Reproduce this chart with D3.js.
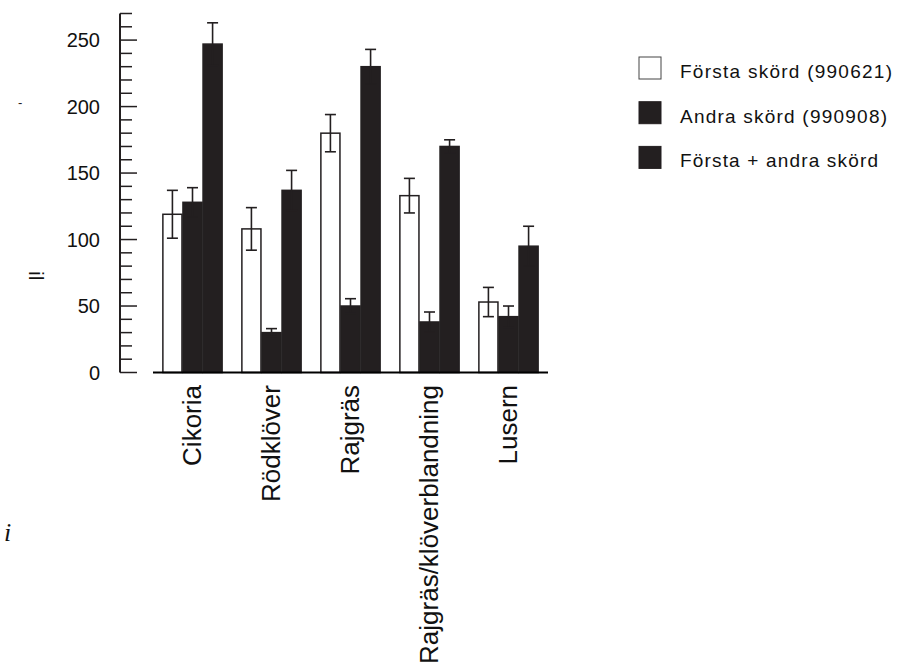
<!DOCTYPE html>
<html>
<head>
<meta charset="utf-8">
<script src="https://cdn.jsdelivr.net/npm/d3@7"></script>
<style>
  html, body { margin: 0; padding: 0; background: #fff; }
  svg { display: block; font-family: "Liberation Sans", Arial, Helvetica, sans-serif; }
</style>
</head>
<body>
<script>
// Skördeutfall per gröda, tre serier med standardfel
const categories = ["Cikoria", "Rödklöver", "Rajgräs", "Rajgräs/klöverblandning", "Lusern"];
const seriesNames = ["Första skörd (990621)", "Andra skörd (990908)", "Första + andra skörd"];
const forsta      = [119, 108, 180, 133, 53];
const forstaErr   = [18, 16, 14, 13, 11];
const andra       = [128, 30, 50, 38, 42];
const andraErr    = [11, 3, 5.5, 7.5, 8];
const summa       = [247, 137, 230, 170, 95];
const summaErr    = [16, 15, 13, 5, 15];
const majorTicks  = [0, 50, 100, 150, 200, 250];
const minorTicks  = [10, 20, 30, 40, 60, 70, 80, 90, 110, 120, 130, 140, 160, 170, 180, 190, 210, 220, 230, 240, 260, 270];

const W = 904, H = 668;
const ink = "#231f20";
const fills = ["#ffffff", ink, ink];

const svg = d3.select("body").append("svg").attr("width", W).attr("height", H);

const y = d3.scaleLinear().domain([0, 270]).range([372.5, 13.5]);
const x = d3.scaleBand().domain(categories).range([153, 548]).paddingInner(0.25).paddingOuter(0.125);
const xi = d3.scaleBand().domain([0, 1, 2]).range([0, x.bandwidth()]).paddingInner(0.05);

const values = [forsta, andra, summa];
const errors = [forstaErr, andraErr, summaErr];
const rows = [];
categories.forEach((c, ci) => {
  values.forEach((vals, si) => rows.push({ c, si, v: vals[ci], e: errors[si][ci] }));
});

// y-axis: long ticks at labelled values, short ticks between
const yAxis = svg.append("g");
yAxis.append("line")
  .attr("x1", 120).attr("x2", 120)
  .attr("y1", y(270)).attr("y2", y(0))
  .attr("stroke", ink).attr("stroke-width", 2);
yAxis.selectAll(".minor").data(minorTicks).join("line")
  .attr("x1", 120).attr("x2", 132)
  .attr("y1", d => y(d)).attr("y2", d => y(d))
  .attr("stroke", ink).attr("stroke-width", 1.5);
yAxis.selectAll(".major").data(majorTicks).join("line")
  .attr("x1", 120).attr("x2", 137)
  .attr("y1", d => y(d)).attr("y2", d => y(d))
  .attr("stroke", ink).attr("stroke-width", 1.5);
yAxis.selectAll("text").data(majorTicks).join("text")
  .attr("x", 100).attr("y", d => y(d))
  .attr("dy", "0.35em")
  .attr("text-anchor", "end")
  .attr("font-size", 20)
  .attr("fill", "#111")
  .text(d => d);

// bars
const groups = svg.append("g");
groups.selectAll("rect").data(rows).join("rect")
  .attr("x", d => x(d.c) + xi(d.si))
  .attr("width", xi.bandwidth())
  .attr("y", d => y(d.v))
  .attr("height", d => y(0) - y(d.v))
  .attr("fill", d => fills[d.si])
  .attr("stroke", ink)
  .attr("stroke-width", 1.5);

// error bars
const capW = 11;
const eb = svg.append("g").attr("stroke", ink).attr("stroke-width", 1.6);
rows.forEach(d => {
  const cx = x(d.c) + xi(d.si) + xi.bandwidth() / 2;
  eb.append("line").attr("x1", cx).attr("x2", cx).attr("y1", y(d.v + d.e)).attr("y2", y(d.v - d.e));
  eb.append("line").attr("x1", cx - capW / 2).attr("x2", cx + capW / 2).attr("y1", y(d.v + d.e)).attr("y2", y(d.v + d.e));
  eb.append("line").attr("x1", cx - capW / 2).attr("x2", cx + capW / 2).attr("y1", y(d.v - d.e)).attr("y2", y(d.v - d.e));
});

// x baseline
svg.append("line")
  .attr("x1", x.range()[0]).attr("x2", x.range()[1])
  .attr("y1", y(0)).attr("y2", y(0))
  .attr("stroke", "#000").attr("stroke-width", 2.2);

// category labels, rotated
svg.append("g").selectAll("text").data(categories).join("text")
  .attr("transform", d => `translate(${x(d) + x.bandwidth() / 2 + 8},385) rotate(-90)`)
  .attr("text-anchor", "end")
  .attr("font-size", 26)
  .attr("fill", "#111")
  .text(d => d);

// legend
const legendW = [212, 207, 198];
const legend = svg.append("g");
seriesNames.forEach((name, i) => {
  const top = 57 + i * 44.7;
  legend.append("rect")
    .attr("x", 639).attr("y", top)
    .attr("width", 22).attr("height", 22)
    .attr("fill", fills[i])
    .attr("stroke", i === 0 ? "#444" : ink)
    .attr("stroke-width", 1);
  legend.append("text")
    .attr("x", 680).attr("y", top + 21)
    .attr("font-size", 19)
    .attr("fill", "#111")
    .attr("textLength", legendW[i])
    .attr("lengthAdjust", "spacing")
    .text(name);
});

// stray axis-title fragments at the left margin
svg.append("text")
  .attr("x", 18).attr("y", 107)
  .attr("font-size", 13).attr("fill", "#222")
  .text("-");
svg.append("text")
  .attr("transform", "translate(29,271) rotate(90)")
  .attr("font-size", 21).attr("fill", "#111")
  .text("il");
svg.append("text")
  .attr("x", 4).attr("y", 541)
  .attr("font-family", "Liberation Serif, Times New Roman, serif")
  .attr("font-style", "italic")
  .attr("font-size", 26).attr("fill", "#111")
  .text("i");
</script>
</body>
</html>
